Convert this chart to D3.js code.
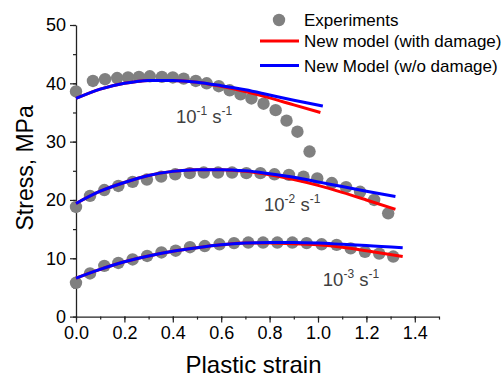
<!DOCTYPE html>
<html>
<head>
<meta charset="utf-8">
<script src="https://cdn.jsdelivr.net/npm/d3@7"></script>
<style>
  body { margin: 0; background: #fff; }
  svg { font-family: Arial, "Liberation Sans", sans-serif; }
</style>
</head>
<body>
<div id="chart"></div>
<script>
// experiments, strain rate 1e-1
const exp1Strain = [0, 0.07, 0.12, 0.17, 0.215, 0.26, 0.305, 0.355, 0.40, 0.445, 0.495, 0.54, 0.59, 0.635, 0.68, 0.725, 0.775, 0.825, 0.87, 0.915, 0.965];
const exp1Stress = [38.6, 40.4, 40.7, 40.9, 41.0, 41.1, 41.2, 41.1, 41.0, 40.8, 40.4, 40.0, 39.5, 38.8, 38.1, 37.4, 36.5, 35.4, 33.6, 31.7, 28.3];
// experiments, strain rate 1e-2
const exp2Strain = [0, 0.058, 0.117, 0.175, 0.234, 0.293, 0.352, 0.41, 0.47, 0.528, 0.587, 0.645, 0.704, 0.762, 0.82, 0.88, 0.94, 0.997, 1.057, 1.116, 1.174, 1.232, 1.29];
const exp2Stress = [18.8, 20.7, 21.7, 22.4, 23.1, 23.5, 24.0, 24.4, 24.6, 24.7, 24.7, 24.7, 24.6, 24.6, 24.4, 24.3, 24.0, 23.7, 22.9, 22.2, 21.4, 20.0, 17.7];
// experiments, strain rate 1e-3
const exp3Strain = [0, 0.058, 0.117, 0.175, 0.234, 0.294, 0.353, 0.412, 0.471, 0.532, 0.593, 0.653, 0.712, 0.773, 0.832, 0.894, 0.953, 1.015, 1.077, 1.135, 1.194, 1.253, 1.311];
const exp3Stress = [5.8, 7.4, 8.7, 9.2, 9.8, 10.4, 11.0, 11.3, 11.9, 12.1, 12.4, 12.6, 12.7, 12.7, 12.7, 12.7, 12.6, 12.4, 12.3, 11.7, 11.1, 10.8, 10.3];

// model curves
const mod1Strain = [0, 0.1, 0.2, 0.3, 0.4, 0.5, 0.6, 0.7, 0.8, 0.9, 1.01];
const dmg1Stress = [37.4, 39.0, 40.0, 40.5, 40.5, 40.2, 39.5, 38.6, 37.5, 36.3, 35.0];
const nod1Strain = [0, 0.1, 0.2, 0.3, 0.4, 0.5, 0.6, 0.7, 0.8, 0.9, 1.02];
const nod1Stress = [37.4, 39.0, 40.0, 40.5, 40.5, 40.2, 39.6, 38.9, 38.0, 37.1, 36.1];

const mod2Strain = [0, 0.1, 0.2, 0.3, 0.4, 0.5, 0.6, 0.7, 0.8, 0.9, 1.0, 1.1, 1.2, 1.32];
const dmg2Stress = [19.4, 21.5, 23.0, 24.2, 24.9, 25.2, 25.2, 24.9, 24.3, 23.5, 22.5, 21.3, 20.0, 18.4];
const nod2Stress = [19.4, 21.5, 23.0, 24.2, 24.9, 25.2, 25.2, 25.0, 24.5, 23.9, 23.1, 22.3, 21.5, 20.6];

const mod3Strain = [0, 0.1, 0.2, 0.3, 0.4, 0.5, 0.6, 0.7, 0.8, 0.9, 1.0, 1.1, 1.2, 1.35];
const dmg3Stress = [6.6, 8.1, 9.4, 10.4, 11.2, 11.8, 12.3, 12.6, 12.6, 12.5, 12.3, 11.9, 11.3, 10.3];
const nod3Stress = [6.6, 8.1, 9.4, 10.4, 11.2, 11.8, 12.3, 12.6, 12.7, 12.7, 12.6, 12.4, 12.2, 11.8];

const xTicks = [0, 0.2, 0.4, 0.6, 0.8, 1.0, 1.2, 1.4];
const yTicks = [0, 10, 20, 30, 40, 50];

const rateLabels = [
  { exp: '-1', x: 0.413, y: 33.2 },
  { exp: '-2', x: 0.777, y: 18.1 },
  { exp: '-3', x: 1.02, y: 5.2 }
];

const width = 503, height = 378;
const margin = { top: 25, right: 64, bottom: 61.4, left: 76 };

const zip = (xs, ys) => xs.map((x, i) => ({ x: x, y: ys[i] }));

const svg = d3.select('#chart').append('svg')
  .attr('width', width)
  .attr('height', height);

const x = d3.scaleLinear().domain([0, 1.5]).range([margin.left, width - margin.right]);
const y = d3.scaleLinear().domain([0, 50]).range([height - margin.bottom, margin.top]);

// axes with minor ticks
const xMinor = d3.range(0, 1.51, 0.1);
const yMinor = d3.range(0, 51, 5);

svg.append('g')
  .attr('transform', `translate(0,${y(0)})`)
  .call(d3.axisBottom(x).tickValues(xMinor).tickSize(3).tickFormat(''))
  .call(g => g.select('.domain').remove())
  .selectAll('line').attr('stroke', '#222').attr('stroke-width', 1.2);

svg.append('g')
  .attr('transform', `translate(${x(0)},0)`)
  .call(d3.axisLeft(y).tickValues(yMinor).tickSize(3).tickFormat(''))
  .call(g => g.select('.domain').remove())
  .selectAll('line').attr('stroke', '#222').attr('stroke-width', 1.2);

const xAxis = svg.append('g')
  .attr('transform', `translate(0,${y(0)})`)
  .call(d3.axisBottom(x).tickValues(xTicks).tickSize(6).tickSizeOuter(0).tickPadding(4).tickFormat(d3.format('.1f')));
xAxis.select('.domain').attr('stroke', '#222').attr('stroke-width', 1.3);
xAxis.selectAll('line').attr('stroke', '#222').attr('stroke-width', 1.2);
xAxis.selectAll('text').attr('font-size', 18).attr('fill', '#000').attr('font-family', 'Arial, "Liberation Sans", sans-serif');

const yAxis = svg.append('g')
  .attr('transform', `translate(${x(0)},0)`)
  .call(d3.axisLeft(y).tickValues(yTicks).tickSize(6).tickSizeOuter(0).tickPadding(4));
yAxis.select('.domain').attr('stroke', '#222').attr('stroke-width', 1.3);
yAxis.selectAll('line').attr('stroke', '#222').attr('stroke-width', 1.2);
yAxis.selectAll('text').attr('font-size', 18).attr('fill', '#000').attr('font-family', 'Arial, "Liberation Sans", sans-serif');

// axis titles
svg.append('text')
  .attr('x', x(0.75) - 4)
  .attr('y', 373)
  .attr('text-anchor', 'middle')
  .attr('font-size', 24)
  .attr('fill', '#000')
  .text('Plastic strain');

svg.append('text')
  .attr('transform', `translate(33,${y(25.5)}) rotate(-90)`)
  .attr('text-anchor', 'middle')
  .attr('font-size', 23)
  .attr('fill', '#000')
  .text('Stress, MPa');

// experiment markers
const expSets = [zip(exp1Strain, exp1Stress), zip(exp2Strain, exp2Stress), zip(exp3Strain, exp3Stress)];
expSets.forEach(set => {
  svg.append('g').selectAll('circle')
    .data(set)
    .enter()
    .append('circle')
    .attr('cx', d => x(d.x))
    .attr('cy', d => y(d.y))
    .attr('r', 6.2)
    .attr('fill', '#808080');
});

// model lines
const line = d3.line().x(d => x(d.x)).y(d => y(d.y)).curve(d3.curveMonotoneX);

const redSets = [zip(mod1Strain, dmg1Stress), zip(mod2Strain, dmg2Stress), zip(mod3Strain, dmg3Stress)];
const blueSets = [zip(nod1Strain, nod1Stress), zip(mod2Strain, nod2Stress), zip(mod3Strain, nod3Stress)];

redSets.forEach(set => {
  svg.append('path').datum(set)
    .attr('d', line)
    .attr('fill', 'none')
    .attr('stroke', '#ff0000')
    .attr('stroke-width', 3);
});
blueSets.forEach(set => {
  svg.append('path').datum(set)
    .attr('d', line)
    .attr('fill', 'none')
    .attr('stroke', '#0000ff')
    .attr('stroke-width', 3);
});

// strain rate annotations
rateLabels.forEach(r => {
  const t = svg.append('text')
    .attr('x', x(r.x))
    .attr('y', y(r.y))
    .attr('font-size', 18.5)
    .attr('fill', '#404040');
  t.append('tspan').text('10');
  t.append('tspan').attr('dy', -8).attr('font-size', 12).text(r.exp);
  t.append('tspan').attr('dy', 8).text(' s');
  t.append('tspan').attr('dy', -8).attr('font-size', 12).text('-1');
});

// legend
const legend = svg.append('g');
legend.append('circle').attr('cx', 279).attr('cy', 20).attr('r', 6.2).attr('fill', '#808080');
legend.append('text').attr('x', 304).attr('y', 26).attr('font-size', 17).attr('fill', '#000').text('Experiments');
legend.append('line').attr('x1', 260).attr('x2', 299).attr('y1', 41).attr('y2', 41)
  .attr('stroke', '#ff0000').attr('stroke-width', 3);
legend.append('text').attr('x', 304).attr('y', 47).attr('font-size', 17).attr('fill', '#000').text('New model (with damage)');
legend.append('line').attr('x1', 260).attr('x2', 299).attr('y1', 65.5).attr('y2', 65.5)
  .attr('stroke', '#0000ff').attr('stroke-width', 3);
legend.append('text').attr('x', 304).attr('y', 72).attr('font-size', 17).attr('fill', '#000').text('New Model (w/o damage)');
</script>
</body>
</html>
